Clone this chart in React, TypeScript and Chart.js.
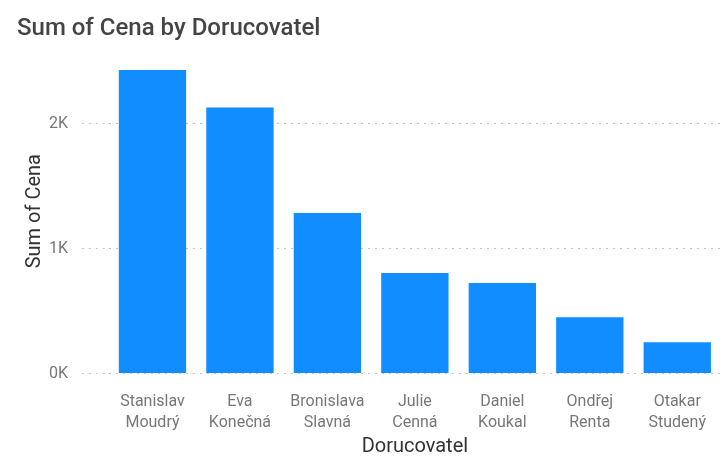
import React, { useEffect, useRef } from "react";
import { Chart, registerables } from "chart.js";

Chart.register(...registerables);

const categories: string[][] = [
  ["Stanislav", "Moudrý"],
  ["Eva", "Konečná"],
  ["Bronislava", "Slavná"],
  ["Julie", "Cenná"],
  ["Daniel", "Koukal"],
  ["Ondřej", "Renta"],
  ["Otakar", "Studený"],
];
const sumOfCena: number[] = [2430, 2130, 1285, 805, 725, 450, 250];
const yTickValues: number[] = [0, 1000, 2000];
const yMax = 2600;

const FONT = "Roboto, 'DejaVu Sans', sans-serif";

export default function App() {
  const ref = useRef<HTMLCanvasElement | null>(null);
  useEffect(() => {
    document.body.style.margin = "0";
    if (!ref.current) return;
    const chart = new Chart(ref.current, {
      type: "bar",
      data: {
        labels: categories,
        datasets: [
          {
            label: "Sum of Cena",
            data: sumOfCena,
            backgroundColor: "#118DFF",
            borderWidth: 0,
            barPercentage: 0.77,
            categoryPercentage: 1,
          },
        ],
      },
      options: {
        animation: false,
        responsive: false,
        maintainAspectRatio: false,
        layout: { padding: { left: 17, right: 5, top: 0, bottom: 0 } },
        plugins: {
          legend: { display: false },
          tooltip: { enabled: false },
          title: {
            display: true,
            text: "Sum of Cena by Dorucovatel",
            align: "start",
            color: "#444",
            font: { family: FONT, size: 24, weight: "500" as any, lineHeight: 1.2 },
            padding: { top: 15, bottom: 5 },
          },
        },
        scales: {
          x: {
            offset: true,
            grid: { display: false, drawTicks: false },
            border: { display: false },
            ticks: {
              color: "#777",
              font: { family: FONT, size: 16, lineHeight: 1.3 },
              padding: 18,
              maxRotation: 0,
              autoSkip: false,
            },
            title: {
              display: true,
              text: "Dorucovatel",
              color: "#333",
              font: { family: FONT, size: 20, lineHeight: 1.2 },
              padding: { top: 0, bottom: 0 },
            },
            afterFit: (scale: any) => {
              scale.height = 85.5;
            },
          },
          y: {
            min: 0,
            max: yMax,
            afterBuildTicks: (scale: any) => {
              scale.ticks = yTickValues.map((v) => ({ value: v }));
            },
            grid: {
              color: "#c4c4c4",
              lineWidth: 1,
              drawTicks: true,
              tickLength: 27,
              tickColor: "#c4c4c4",
              tickBorderDash: [2, 5],
            },
            border: { display: false, dash: [2, 5] },
            ticks: {
              color: "#777",
              font: { family: FONT, size: 16 },
              padding: 13.75,
              callback: (v: any) => `${Number(v) / 1000}K`,
            },
            title: {
              display: true,
              text: "Sum of Cena",
              color: "#333",
              font: { family: FONT, size: 20, lineHeight: 1.2 },
              padding: { top: 6, bottom: 0 },
            },
            afterFit: (scale: any) => {
              scale.width = 91.75;
            },
          },
        },
      },
    });
    return () => chart.destroy();
  }, []);
  return (
    <div style={{ width: 726, height: 459, background: "#fff" }}>
      <canvas ref={ref} width={726} height={459} style={{ display: "block" }} />
    </div>
  );
}
